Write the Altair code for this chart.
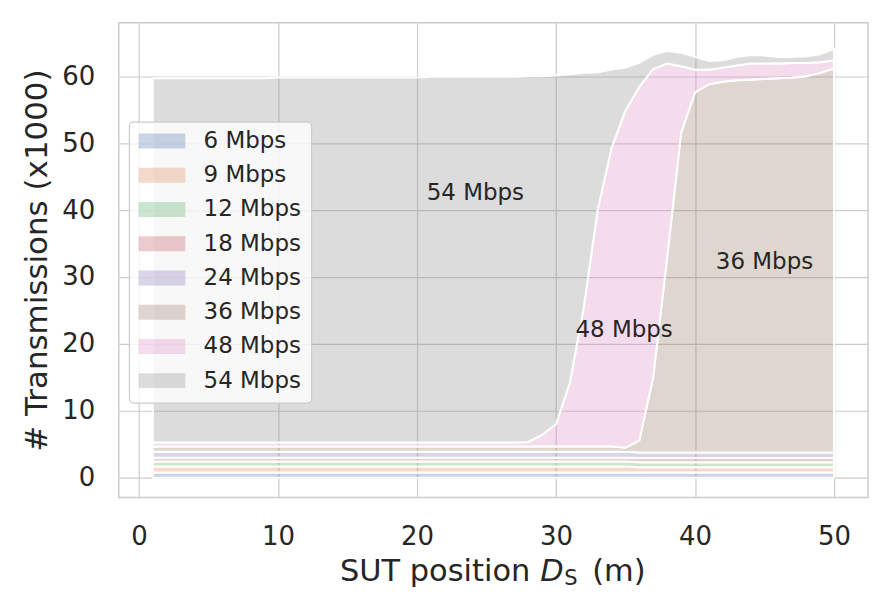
import altair as alt
import pandas as pd

# ---------------- data ----------------
positions = list(range(1, 51))  # SUT position D_S (m)

rates = ["6 Mbps", "9 Mbps", "12 Mbps", "18 Mbps", "24 Mbps", "36 Mbps", "48 Mbps", "54 Mbps"]
colors = ["#4C72B0", "#DD8452", "#55A868", "#C44E52", "#8172B3", "#937860", "#DA8BC3", "#8C8C8C"]

# transmissions (x1000) per data rate, positions 1..50
tx_6 = [0.79, 0.79, 0.79, 0.79, 0.79, 0.79, 0.79, 0.79, 0.79, 0.79,
        0.79, 0.79, 0.79, 0.79, 0.79, 0.79, 0.79, 0.79, 0.79, 0.79,
        0.79, 0.79, 0.79, 0.79, 0.79, 0.79, 0.79, 0.79, 0.79, 0.79,
        0.79, 0.79, 0.79, 0.79, 0.79, 0.79, 0.79, 0.79, 0.79, 0.79,
        0.79, 0.79, 0.79, 0.79, 0.79, 0.79, 0.79, 0.79, 0.79, 0.79]
tx_9 = [0.89, 0.89, 0.89, 0.89, 0.89, 0.89, 0.89, 0.89, 0.89, 0.89,
        0.89, 0.89, 0.89, 0.89, 0.89, 0.89, 0.89, 0.89, 0.89, 0.89,
        0.89, 0.89, 0.89, 0.89, 0.89, 0.89, 0.89, 0.89, 0.89, 0.89,
        0.89, 0.89, 0.89, 0.89, 0.89, 0.80, 0.80, 0.80, 0.80, 0.80,
        0.80, 0.80, 0.80, 0.80, 0.80, 0.80, 0.80, 0.80, 0.80, 0.80]
tx_12 = [0.75, 0.75, 0.75, 0.75, 0.75, 0.75, 0.75, 0.75, 0.75, 0.75,
         0.75, 0.75, 0.75, 0.75, 0.75, 0.75, 0.75, 0.75, 0.75, 0.75,
         0.75, 0.75, 0.75, 0.75, 0.75, 0.75, 0.75, 0.75, 0.75, 0.75,
         0.75, 0.75, 0.75, 0.75, 0.75, 0.75, 0.75, 0.75, 0.75, 0.75,
         0.75, 0.75, 0.75, 0.75, 0.75, 0.75, 0.75, 0.75, 0.75, 0.75]
tx_18 = [0.57, 0.57, 0.57, 0.57, 0.57, 0.57, 0.57, 0.57, 0.57, 0.57,
         0.57, 0.57, 0.57, 0.57, 0.57, 0.57, 0.57, 0.57, 0.57, 0.57,
         0.57, 0.57, 0.57, 0.57, 0.57, 0.57, 0.57, 0.57, 0.57, 0.57,
         0.57, 0.57, 0.57, 0.57, 0.57, 0.62, 0.62, 0.62, 0.62, 0.62,
         0.62, 0.62, 0.62, 0.62, 0.62, 0.62, 0.62, 0.62, 0.62, 0.62]
tx_24 = [0.89, 0.89, 0.89, 0.89, 0.89, 0.89, 0.89, 0.89, 0.89, 0.89,
         0.89, 0.89, 0.89, 0.89, 0.89, 0.89, 0.89, 0.89, 0.89, 0.89,
         0.89, 0.89, 0.89, 0.89, 0.89, 0.89, 0.89, 0.89, 0.89, 0.89,
         0.89, 0.89, 0.89, 0.89, 0.89, 0.82, 0.82, 0.82, 0.82, 0.82,
         0.82, 0.82, 0.82, 0.82, 0.82, 0.82, 0.82, 0.82, 0.82, 0.82]
tx_36 = [0.78, 0.78, 0.78, 0.78, 0.78, 0.78, 0.78, 0.78, 0.78, 0.78,
         0.78, 0.78, 0.78, 0.78, 0.78, 0.78, 0.78, 0.78, 0.78, 0.78,
         0.78, 0.78, 0.78, 0.78, 0.78, 0.78, 0.78, 0.78, 0.78, 0.78,
         0.78, 0.78, 0.78, 0.78, 0.61, 1.82, 11.3, 29.2, 47.7, 53.8,
         55.0, 55.4, 55.6, 55.7, 55.8, 55.9, 56.0, 56.2, 56.7, 57.4]
tx_48 = [0.59, 0.59, 0.59, 0.59, 0.59, 0.59, 0.59, 0.59, 0.59, 0.59,
         0.59, 0.59, 0.59, 0.59, 0.59, 0.59, 0.59, 0.59, 0.59, 0.59,
         0.59, 0.59, 0.59, 0.59, 0.59, 0.59, 0.59, 0.68, 1.73, 3.33,
         9.53, 20.83, 35.33, 44.63, 50.4, 52.8, 46.0, 28.9, 10.0, 3.4,
         2.2, 2.1, 2.2, 2.4, 2.3, 2.2, 2.2, 2.0, 1.6, 1.2]
tx_54 = [54.44, 54.44, 54.44, 54.44, 54.44, 54.44, 54.44, 54.44, 54.44, 54.54,
         54.54, 54.54, 54.54, 54.54, 54.54, 54.54, 54.54, 54.54, 54.54, 54.54,
         54.64, 54.64, 54.64, 54.64, 54.64, 54.64, 54.64, 54.65, 53.6, 52.1,
         46.1, 35.0, 20.6, 11.7, 6.4, 3.6, 2.1, 1.9, 2.0, 1.9,
         1.3, 1.1, 1.3, 1.3, 1.2, 1.0, 0.9, 1.0, 1.2, 1.7]

series = [tx_6, tx_9, tx_12, tx_18, tx_24, tx_36, tx_48, tx_54]

# in-plot annotations (data coordinates)
ann_labels = ["54 Mbps", "48 Mbps", "36 Mbps"]
ann_pos = [24.2, 34.9, 45.0]
ann_tx = [42.6, 22.1, 32.3]

x_ticks = [0, 10, 20, 30, 40, 50]
y_ticks = [0, 10, 20, 30, 40, 50, 60]
y_title = "# Transmissions (x1000)"
x_title_parts = ["SUT position", "D", "S", "(m)"]

# ---------------- build tables ----------------
rows = []
for i, (r, vals) in enumerate(zip(rates, series)):
    for p, v in zip(positions, vals):
        rows.append({"pos": p, "rate": r, "order": i, "tx": v})
df = pd.DataFrame(rows)

ann_df = pd.DataFrame({"label": ann_labels, "pos": ann_pos, "tx": ann_tx})
leg_df = pd.DataFrame({"rate": rates, "order": list(range(len(rates)))})

FONT = "DejaVu Sans"
TXT = "#262626"
W, H = 751, 476

color_scale = alt.Scale(domain=rates, range=colors)

areas = alt.Chart(df).mark_area(
    fillOpacity=0.3, stroke="white", strokeWidth=2, interpolate="linear"
).encode(
    x=alt.X("pos:Q",
            scale=alt.Scale(domain=[-1.45, 52.45], nice=False, zero=False),
            axis=alt.Axis(values=x_ticks, title=None, labelPadding=26, labelFlush=False)),
    y=alt.Y("tx:Q", stack="zero",
            scale=alt.Scale(domain=[-2.95, 68.0], nice=False, zero=False),
            axis=alt.Axis(values=y_ticks, title=y_title, labelPadding=24,
                          titleFontSize=31, titleAngle=270, titleX=-72,
                          titleBaseline="alphabetic", titleAlign="center")),
    color=alt.Color("rate:N", scale=color_scale, legend=None),
    order=alt.Order("order:Q"),
)

annotations = alt.Chart(ann_df).mark_text(
    fontSize=23, color=TXT, font=FONT, align="center", baseline="middle"
).encode(x="pos:Q", y="tx:Q", text="label:N")

# legend box
leg_box = alt.Chart(pd.DataFrame({"b": [0]})).mark_rect(
    fill="white", fillOpacity=0.8, stroke="#cccccc", strokeWidth=1.2, cornerRadius=4
).encode(x=alt.value(10.7), x2=alt.value(193.3), y=alt.value(99.7), y2=alt.value(381.3))

leg_swatch = alt.Chart(leg_df).transform_calculate(
    py0="111.2 + 34.3*datum.order", py1="126.2 + 34.3*datum.order"
).mark_rect(fillOpacity=0.3).encode(
    x=alt.value(20), x2=alt.value(66.7),
    y=alt.Y("py0:Q", scale=None, axis=None), y2="py1:Q",
    color=alt.Color("rate:N", scale=color_scale, legend=None),
)

leg_text = alt.Chart(leg_df).transform_calculate(
    py="118.7 + 34.3*datum.order"
).mark_text(align="left", baseline="middle", fontSize=23, color=TXT, font=FONT).encode(
    x=alt.value(85), y=alt.Y("py:Q", scale=None, axis=None), text="rate:N"
)

# x-axis title with italic D and subscript S
def title_piece(txt, xpix, ypix, size, style="normal"):
    return alt.Chart(pd.DataFrame({"t": [txt]})).mark_text(
        align="left", baseline="alphabetic", fontSize=size, font=FONT,
        fontStyle=style, color=TXT
    ).encode(x=alt.value(xpix), y=alt.value(ypix), text="t:N")

xt1 = title_piece(x_title_parts[0], 221.7, 559.7, 30.5)
xt2 = title_piece(x_title_parts[1], 422.5, 559.7, 30.5, "italic")
xt3 = title_piece(x_title_parts[2], 446.5, 564, 21)
xt4 = title_piece(x_title_parts[3], 474.5, 559.7, 30.5)

chart = alt.layer(
    areas, annotations, leg_box, leg_swatch, leg_text, xt1, xt2, xt3, xt4
).properties(
    width=W, height=H,
    padding={"left": 111, "top": 14, "right": 20, "bottom": 100},
    autosize=alt.AutoSizeParams(type="none"),
).configure_view(
    stroke="#cccccc", strokeWidth=1.5
).configure_axis(
    grid=True, gridColor="#cccccc", gridWidth=1.2,
    domain=False, ticks=False, tickSize=0,
    labelFont=FONT, labelFontSize=26, labelColor=TXT,
    titleFont=FONT, titleFontWeight="normal", titleColor=TXT,
)

chart.save("out.html", embed_options={"renderer": "svg", "actions": False})
